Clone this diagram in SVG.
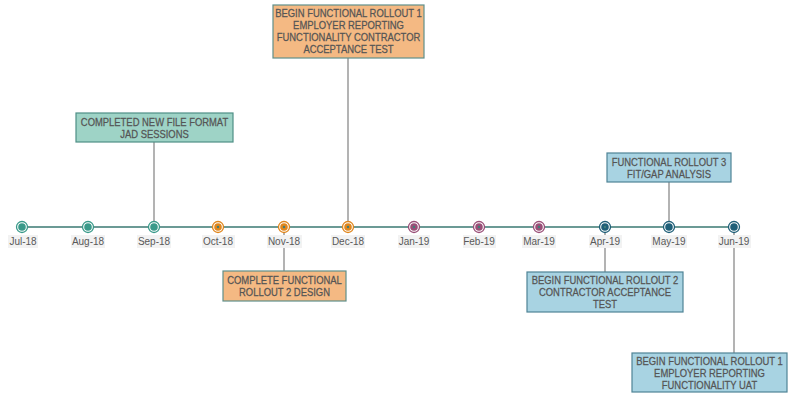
<svg xmlns="http://www.w3.org/2000/svg" width="792" height="395" viewBox="0 0 792 395">
<style>
.t{font-family:"Liberation Sans",Arial,sans-serif;font-size:10.6px;fill:#555;stroke:#555;stroke-width:0.25;text-anchor:middle}
.m{font-family:"Liberation Sans",Arial,sans-serif;font-size:10px;fill:#595959;text-anchor:middle}
.lb{fill:#f2f2f2}
.teal{fill:#9ed3c6;stroke:#4f8f86;stroke-width:1.2}
.org{fill:#f4b983;stroke:#5f8f8a;stroke-width:1.2}
.blu{fill:#a8d3e2;stroke:#4f8496;stroke-width:1.2}
.c{stroke:#9a9a9a;stroke-width:1.5;fill:none}
.ring{fill:#fff;stroke-width:1.3}
.dot{fill:#3f7d78}
</style>
<rect width="792" height="395" fill="#fff"/>
<g id="connectors">
<line class="c" x1="154" y1="142" x2="154" y2="227"/>
<line class="c" x1="348" y1="58" x2="348" y2="227"/>
<line class="c" x1="284" y1="227" x2="284" y2="271"/>
<line class="c" x1="605" y1="227" x2="605" y2="272"/>
<line class="c" x1="669" y1="182" x2="669" y2="227"/>
<line class="c" x1="734" y1="227" x2="734" y2="353"/>
</g>
<g id="timeline">
<line x1="22" y1="227" x2="734" y2="227" stroke="#6b9a95" stroke-width="2"/>
</g>
<g id="markers">
<g id="m-jul"><circle class="ring" cx="22" cy="227" r="5.5" stroke="#3a9a8a"/><circle cx="22" cy="227" r="3.8" fill="#3a9a8a"/></g>
<g id="m-aug"><circle class="ring" cx="88" cy="227" r="5.5" stroke="#3a9a8a"/><circle cx="88" cy="227" r="3.8" fill="#3a9a8a"/></g>
<g id="m-sep"><circle class="ring" cx="154" cy="227" r="5.5" stroke="#3a9a8a"/><circle cx="154" cy="227" r="3.8" fill="#3a9a8a"/></g>
<g id="m-oct"><circle class="ring" cx="218" cy="227" r="5.5" stroke="#e0861c"/><circle cx="218" cy="227" r="3.8" fill="#e0861c"/><circle class="dot" cx="218" cy="227" r="1.2"/></g>
<g id="m-nov"><circle class="ring" cx="284" cy="227" r="5.5" stroke="#e0861c"/><circle cx="284" cy="227" r="3.8" fill="#e0861c"/><circle class="dot" cx="284" cy="227" r="1.2"/></g>
<g id="m-dec"><circle class="ring" cx="348" cy="227" r="5.5" stroke="#e0861c"/><circle cx="348" cy="227" r="3.8" fill="#e0861c"/><circle class="dot" cx="348" cy="227" r="1.2"/></g>
<g id="m-jan"><circle class="ring" cx="414" cy="227" r="5.5" stroke="#9a4f78"/><circle cx="414" cy="227" r="3.8" fill="#9a4f78"/><circle class="dot" cx="414" cy="227" r="1.2"/></g>
<g id="m-feb"><circle class="ring" cx="479" cy="227" r="5.5" stroke="#9a4f78"/><circle cx="479" cy="227" r="3.8" fill="#9a4f78"/><circle class="dot" cx="479" cy="227" r="1.2"/></g>
<g id="m-mar"><circle class="ring" cx="539" cy="227" r="5.5" stroke="#9a4f78"/><circle cx="539" cy="227" r="3.8" fill="#9a4f78"/><circle class="dot" cx="539" cy="227" r="1.2"/></g>
<g id="m-apr"><circle class="ring" cx="605" cy="227" r="5.5" stroke="#1f5f78"/><circle cx="605" cy="227" r="3.8" fill="#1f5f78"/><circle class="dot" cx="605" cy="227" r="1.2"/></g>
<g id="m-may"><circle class="ring" cx="669" cy="227" r="5.5" stroke="#1f5f78"/><circle cx="669" cy="227" r="3.8" fill="#1f5f78"/></g>
<g id="m-jun"><circle class="ring" cx="734" cy="227" r="5.5" stroke="#1f5f78"/><circle cx="734" cy="227" r="3.8" fill="#1f5f78"/></g>
</g>
<g id="labels">
<rect class="lb" x="8" y="235" width="30" height="13"/><text class="m" x="23" y="245">Jul-18</text>
<rect class="lb" x="71" y="235" width="34" height="13"/><text class="m" x="88" y="245">Aug-18</text>
<rect class="lb" x="137" y="235" width="34" height="13"/><text class="m" x="154" y="245">Sep-18</text>
<rect class="lb" x="202" y="235" width="33" height="13"/><text class="m" x="218" y="245">Oct-18</text>
<rect class="lb" x="267" y="235" width="35" height="13"/><text class="m" x="284" y="245">Nov-18</text>
<rect class="lb" x="331" y="235" width="34" height="13"/><text class="m" x="348" y="245">Dec-18</text>
<rect class="lb" x="398" y="235" width="32" height="13"/><text class="m" x="414" y="245">Jan-19</text>
<rect class="lb" x="463" y="235" width="33" height="13"/><text class="m" x="479" y="245">Feb-19</text>
<rect class="lb" x="522" y="235" width="34" height="13"/><text class="m" x="539" y="245">Mar-19</text>
<rect class="lb" x="589" y="235" width="33" height="13"/><text class="m" x="605" y="245">Apr-19</text>
<rect class="lb" x="651" y="235" width="36" height="13"/><text class="m" x="669" y="245">May-19</text>
<rect class="lb" x="718" y="235" width="33" height="13"/><text class="m" x="734" y="245">Jun-19</text>
</g>
<g id="n1">
<rect class="teal" x="76" y="113" width="157" height="29"/>
<g transform="translate(154.5,0) scale(0.89,1)">
<text class="t" x="0" y="126">COMPLETED NEW FILE FORMAT</text>
<text class="t" x="0" y="138">JAD SESSIONS</text>
</g>
</g>
<g id="n2">
<rect class="org" x="273" y="5" width="151" height="53"/>
<g transform="translate(348.5,0) scale(0.89,1)">
<text class="t" x="0" y="17.5">BEGIN FUNCTIONAL ROLLOUT 1</text>
<text class="t" x="0" y="29.5">EMPLOYER REPORTING</text>
<text class="t" x="0" y="41.5">FUNCTIONALITY CONTRACTOR</text>
<text class="t" x="0" y="53.5">ACCEPTANCE TEST</text>
</g>
</g>
<g id="n3">
<rect class="org" x="223" y="271" width="123" height="30"/>
<g transform="translate(284.5,0) scale(0.89,1)">
<text class="t" x="0" y="284.5">COMPLETE FUNCTIONAL</text>
<text class="t" x="0" y="296.5">ROLLOUT 2 DESIGN</text>
</g>
</g>
<g id="n4">
<rect class="blu" x="527" y="272" width="156" height="40"/>
<g transform="translate(605,0) scale(0.89,1)">
<text class="t" x="0" y="284.5">BEGIN FUNCTIONAL ROLLOUT 2</text>
<text class="t" x="0" y="296.5">CONTRACTOR ACCEPTANCE</text>
<text class="t" x="0" y="308.5">TEST</text>
</g>
</g>
<g id="n5">
<rect class="blu" x="607" y="153" width="124" height="29"/>
<g transform="translate(669,0) scale(0.89,1)">
<text class="t" x="0" y="166">FUNCTIONAL ROLLOUT 3</text>
<text class="t" x="0" y="178">FIT/GAP ANALYSIS</text>
</g>
</g>
<g id="n6">
<rect class="blu" x="632" y="353" width="155" height="39"/>
<g transform="translate(709.5,0) scale(0.89,1)">
<text class="t" x="0" y="365.5">BEGIN FUNCTIONAL ROLLOUT 1</text>
<text class="t" x="0" y="377.5">EMPLOYER REPORTING</text>
<text class="t" x="0" y="389.5">FUNCTIONALITY UAT</text>
</g>
</g>
</svg>
